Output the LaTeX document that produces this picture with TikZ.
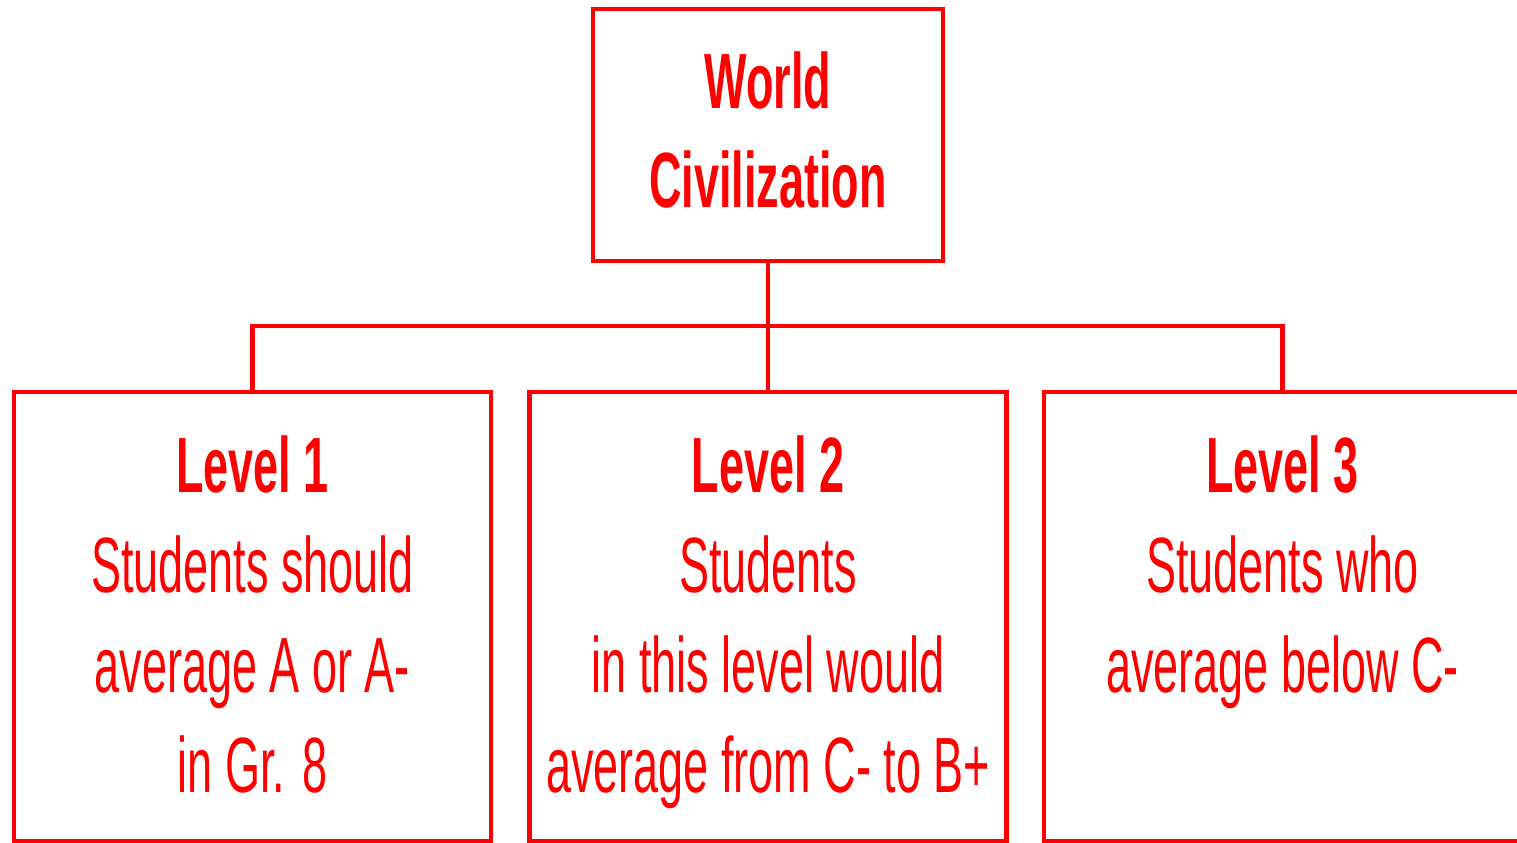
\documentclass[tikz,border=0pt]{standalone}
\usepackage{fontspec}
\setmainfont{Liberation Sans}[FakeStretch=0.574]
\usepackage{tikz}
\definecolor{civred}{RGB}{255,0,0}
\newcommand{\lvlbox}[2]{\node[lvlbox] (#1) at (#2,2.265) {};}
\newcommand{\lvltext}[3]{\node[lvltxt] (#1) at (#2,4.09) {#3};}

\begin{document}
\begin{tikzpicture}[line width=1.15pt,
  lvlbox/.style={draw=civred,minimum width=4.77cm,minimum height=4.49cm,inner sep=0pt},
  lvltxt/.style={anchor=north,align=center,inner sep=0pt,text=civred,
    font=\fontsize{22.3}{28.45}\selectfont},
  conn/.style={draw=civred}]
\useasboundingbox (0,0) rectangle (15.17,8.43);
\clip (0,0) rectangle (15.17,8.43);

\node[draw=civred,minimum width=3.5cm,minimum height=2.52cm,inner sep=0pt,
  align=center,text=civred,font=\fontsize{22.3}{28.45}\selectfont\bfseries]
  (wc) at (7.68,7.08) {};
\node[text=civred,align=center,inner sep=0pt,
  font=\fontsize{22.3}{28.45}\selectfont\bfseries]
  (wctxt) at (7.68,7.13) {World\\Civilization};

\lvlbox{lvl1}{2.525}
\lvlbox{lvl2}{7.68}
\lvlbox{lvl3}{12.825}

\lvltext{txt1}{2.525}{\textbf{Level 1}\\Students should\\average A or A-\\in Gr. 8}
\lvltext{txt2}{7.68}{\textbf{Level 2}\\Students\\in this level would\\average from C- to B+}
\lvltext{txt3}{12.825}{\textbf{Level 3}\\Students who\\average below C-}

\coordinate (bus) at (7.68,5.17);
\draw[conn] (wc.south) -- (lvl2.north);
\draw[conn] (lvl1.north) -- (lvl1.north |- bus) -- (lvl3.north |- bus) -- (lvl3.north);
\end{tikzpicture}
\end{document}
